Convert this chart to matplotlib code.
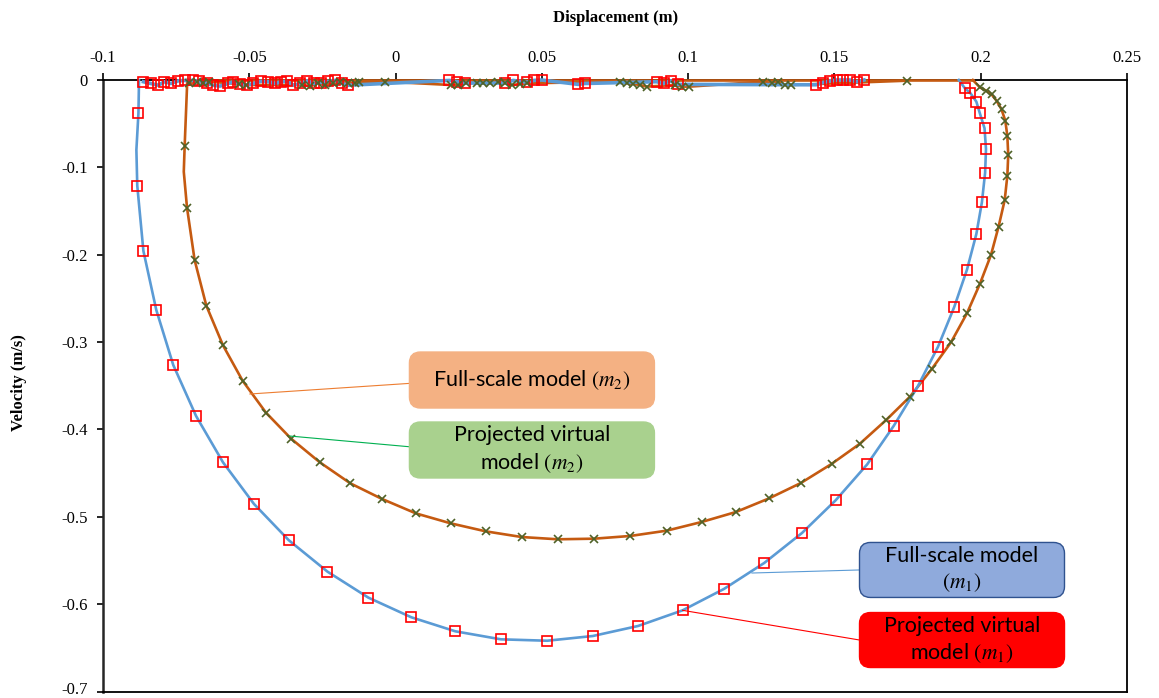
import matplotlib
matplotlib.use("Agg")
import matplotlib.pyplot as plt
from matplotlib.patches import FancyBboxPatch
from matplotlib.transforms import ScaledTranslation

plt.rcParams["font.family"] = ["Liberation Serif", "DejaVu Serif"]
plt.rcParams["mathtext.fontset"] = "stix"

# ---------------- data ----------------
x_ticks = [-0.1, -0.05, 0.0, 0.05, 0.1, 0.15, 0.2, 0.25]
x_tick_labels = ["-0.1", "-0.05", "0", "0.05", "0.1", "0.15", "0.2", "0.25"]
y_ticks = [0.0, -0.1, -0.2, -0.3, -0.4, -0.5, -0.6, -0.7]
y_tick_labels = ["0", "-0.1", "-0.2", "-0.3", "-0.4", "-0.5", "-0.6", "-0.7"]

# Full-scale model (m1): main swing, right -> left
m1_full_x = [0.1925, 0.1946, 0.1965, 0.1985, 0.1997, 0.2013, 0.2018, 0.2015, 0.2004,
             0.1985, 0.1953, 0.1909, 0.1854, 0.1785, 0.1703, 0.1612, 0.1504, 0.1389,
             0.1260, 0.1122, 0.0981, 0.0829, 0.0674, 0.0518, 0.0360, 0.0204, 0.0054,
             -0.0093, -0.0233, -0.0365, -0.0484, -0.0590, -0.0682, -0.0760, -0.0818,
             -0.0862, -0.0883, -0.0886, -0.0879, -0.0877]
m1_full_v = [0.0, -0.0095, -0.0152, -0.0248, -0.0381, -0.0553, -0.0790, -0.1061, -0.1400,
             -0.1763, -0.2171, -0.2602, -0.3053, -0.3506, -0.3957, -0.4399, -0.4811, -0.5185,
             -0.5528, -0.5826, -0.6070, -0.6249, -0.6364, -0.6418, -0.6402, -0.6310, -0.6150,
             -0.5925, -0.5627, -0.5268, -0.4853, -0.4376, -0.3846, -0.3262, -0.2632,
             -0.1957, -0.1210, -0.0800, -0.0381, 0.0]

# Projected virtual model (m1): samples on the swing
m1_virt_x = [0.1946, 0.1965, 0.1985, 0.1997, 0.2013, 0.2018, 0.2015, 0.2004, 0.1985,
             0.1953, 0.1909, 0.1854, 0.1785, 0.1703, 0.1612, 0.1504, 0.1389, 0.1260,
             0.1122, 0.0981, 0.0829, 0.0674, 0.0518, 0.0360, 0.0204, 0.0054, -0.0093,
             -0.0233, -0.0365, -0.0484, -0.0590, -0.0682, -0.0760, -0.0818, -0.0862,
             -0.0883, -0.0879]
m1_virt_v = [-0.0095, -0.0152, -0.0248, -0.0381, -0.0553, -0.0790, -0.1061, -0.1400, -0.1763,
             -0.2171, -0.2602, -0.3053, -0.3506, -0.3957, -0.4399, -0.4811, -0.5185, -0.5528,
             -0.5826, -0.6070, -0.6249, -0.6364, -0.6418, -0.6402, -0.6310, -0.6150, -0.5925,
             -0.5627, -0.5268, -0.4853, -0.4376, -0.3846, -0.3262, -0.2632, -0.1957,
             -0.1210, -0.0381]

# m1 samples near rest (small oscillations after the swing)
m1_rest_x = [-0.0862, -0.0837, -0.0811, -0.0790, -0.0768, -0.0743, -0.0720, -0.0693,
             -0.0671, -0.0646, -0.0623, -0.0600, -0.0572, -0.0555, -0.0532, -0.0509,
             -0.0486, -0.0461, -0.0435, -0.0412, -0.0392, -0.0370, -0.0350, -0.0327,
             -0.0302, -0.0279, -0.0256, -0.0230, -0.0207, -0.0184, -0.0162,
             0.0184, 0.0211, 0.0237, 0.0374, 0.0402, 0.0448, 0.0473, 0.0499, 0.0624,
             0.0647, 0.0892, 0.0917, 0.0940, 0.0964,
             0.1437, 0.1460, 0.1485, 0.1508, 0.1530, 0.1553, 0.1576, 0.1601]
m1_rest_v = [-0.0020, -0.0040, -0.0060, -0.0020, -0.0040, -0.0010, -0.0005, -0.0005,
             -0.0015, -0.0040, -0.0060, -0.0070, -0.0040, -0.0020, -0.0045, -0.0060,
             -0.0040, -0.0015, -0.0020, -0.0040, -0.0020, -0.0015, -0.0060, -0.0040,
             -0.0010, -0.0040, -0.0030, -0.0015, -0.0005, -0.0040, -0.0060,
             -0.0005, -0.0020, -0.0035, -0.0035, -0.0005, -0.0025, -0.0005, 0.0000, -0.0050,
             -0.0040, -0.0020, -0.0040, -0.0010, -0.0050,
             -0.0055, -0.0030, -0.0010, 0.0000, 0.0000, 0.0000, -0.0020, 0.0000]

# Full-scale model (m2): main swing, right -> left
m2_full_x = [0.1973, 0.1997, 0.2018, 0.2037, 0.2054, 0.2071, 0.2084, 0.2091, 0.2094,
             0.2091, 0.2082, 0.2061, 0.2035, 0.1997, 0.1953, 0.1899, 0.1832, 0.1758,
             0.1677, 0.1587, 0.1490, 0.1385, 0.1277, 0.1163, 0.1046, 0.0927, 0.0802,
             0.0679, 0.0554, 0.0431, 0.0308, 0.0188, 0.0069, -0.0046, -0.0155, -0.0259,
             -0.0357, -0.0443, -0.0523, -0.0590, -0.0647, -0.0687, -0.0713, -0.0724,
             -0.0721, -0.0712]
m2_full_v = [0.0, -0.0084, -0.0122, -0.0164, -0.0237, -0.0336, -0.0466, -0.0641, -0.0858,
             -0.1095, -0.1373, -0.1679, -0.2003, -0.2335, -0.2670, -0.2999, -0.3311, -0.3625,
             -0.3891, -0.4163, -0.4395, -0.4613, -0.4788, -0.4945, -0.5059, -0.5158, -0.5219,
             -0.5250, -0.5257, -0.5231, -0.5166, -0.5074, -0.4960, -0.4796, -0.4616, -0.4376,
             -0.4106, -0.3808, -0.3442, -0.3037, -0.2583, -0.2060, -0.1461, -0.1050,
             -0.0755, 0.0]

# Projected virtual model (m2): samples on the swing
m2_virt_x = [0.1997, 0.2018, 0.2037, 0.2054, 0.2071, 0.2084, 0.2091, 0.2094, 0.2091,
             0.2082, 0.2061, 0.2035, 0.1997, 0.1953, 0.1899, 0.1832, 0.1758, 0.1677,
             0.1587, 0.1490, 0.1385, 0.1277, 0.1163, 0.1046, 0.0927, 0.0802, 0.0679,
             0.0554, 0.0431, 0.0308, 0.0188, 0.0069, -0.0046, -0.0155, -0.0259, -0.0357,
             -0.0443, -0.0523, -0.0590, -0.0647, -0.0687, -0.0713, -0.0721]
m2_virt_v = [-0.0084, -0.0122, -0.0164, -0.0237, -0.0336, -0.0466, -0.0641, -0.0858, -0.1095,
             -0.1373, -0.1679, -0.2003, -0.2335, -0.2670, -0.2999, -0.3311, -0.3625, -0.3891,
             -0.4163, -0.4395, -0.4613, -0.4788, -0.4945, -0.5059, -0.5158, -0.5219, -0.5250,
             -0.5257, -0.5231, -0.5166, -0.5074, -0.4960, -0.4796, -0.4616, -0.4376, -0.4106,
             -0.3808, -0.3442, -0.3037, -0.2583, -0.2060, -0.1461, -0.0755]

# m2 samples near rest
m2_rest_x = [-0.0705, -0.0678, -0.0657, -0.0637, -0.0534, -0.0511, -0.0321, -0.0293,
             -0.0264, -0.0241, -0.0213, -0.0190, -0.0162, -0.0139, -0.0124, -0.0036,
             0.0188, 0.0214, 0.0241, 0.0277, 0.0300, 0.0323, 0.0351, 0.0374, 0.0397,
             0.0425, 0.0448, 0.0767, 0.0790, 0.0812, 0.0835, 0.0858, 0.0955, 0.0978,
             0.1004, 0.1257, 0.1285, 0.1308, 0.1331, 0.1353, 0.1747]
m2_rest_v = [-0.0038, -0.0019, -0.0031, -0.0019, -0.0046, -0.0057, -0.0057, -0.0069,
             -0.0038, -0.0057, -0.0038, -0.0019, -0.0038, -0.0038, -0.0019, -0.0019,
             -0.0057, -0.0057, -0.0038, -0.0031, -0.0038, -0.0031, -0.0019, -0.0038, -0.0057,
             -0.0046, -0.0038, -0.0019, -0.0038, -0.0046, -0.0057, -0.0076, -0.0057, -0.0076,
             -0.0076, -0.0019, -0.0038, -0.0019, -0.0057, -0.0057, -0.0008]

# ---------------- styles ----------------
BLUE = "#5B9BD5"
ORANGE = "#C55A11"
RED = "#FF0000"
OLIVE = "#4F6228"

fig = plt.figure(figsize=(11.59, 6.98), dpi=100)
ax = fig.add_axes([0.0889, 0.0092, 0.8835, 0.8762])
ax.set_xlim(-0.1, 0.25)
ax.set_ylim(-0.7, 0.0)

# full-scale trajectories
ax.plot(m2_full_x, m2_full_v, color=ORANGE, lw=1.9, zorder=3, clip_on=False)
ax.plot(m2_rest_x, m2_rest_v, color=ORANGE, lw=1.9, zorder=3, clip_on=False)
ax.plot([m2_full_x[-1], m2_full_x[0]], [0.0, 0.0], color=ORANGE, lw=1.9, zorder=3, clip_on=False)
ax.plot(m1_full_x, m1_full_v, color=BLUE, lw=1.9, zorder=3, clip_on=False)
ax.plot(m1_rest_x, m1_rest_v, color=BLUE, lw=2.6, zorder=3, clip_on=False)

# projected virtual samples
ax.plot(m1_virt_x, m1_virt_v, ls="none", marker="s", ms=7, mfc="none", mec=RED,
        mew=1.2, zorder=4, clip_on=False)
ax.plot(m1_rest_x, m1_rest_v, ls="none", marker="s", ms=7, mfc="none", mec=RED,
        mew=1.2, zorder=4, clip_on=False)
ax.plot(m2_virt_x, m2_virt_v, ls="none", marker="x", ms=6, mec=OLIVE,
        mew=1.2, zorder=5, clip_on=False)
ax.plot(m2_rest_x, m2_rest_v, ls="none", marker="x", ms=6, mec=OLIVE,
        mew=1.2, zorder=5, clip_on=False)

# axes appearance
ax.xaxis.tick_top()
ax.set_xticks(x_ticks)
ax.set_xticklabels(x_tick_labels, fontsize=12)
ax.set_yticks(y_ticks)
ax.set_yticklabels(y_tick_labels, fontsize=12)
ax.tick_params(axis="x", direction="out", length=5, width=1.2, pad=5, colors="black")
ax.tick_params(axis="y", direction="out", length=4, width=1.2, pad=7, colors="black")
for side in ["top", "bottom", "right"]:
    ax.spines[side].set_linewidth(1.3)
    ax.spines[side].set_color("black")
ax.spines["left"].set_linewidth(1.8)
ax.spines["left"].set_color("#262626")

# keep the lowest velocity label inside the canvas
lowest = ax.get_yticklabels()[-1]
lowest.set_transform(lowest.get_transform() + ScaledTranslation(0, 4 / 100, fig.dpi_scale_trans))

fig.text(0.531, 0.974, "Displacement (m)", ha="center", va="center",
         fontsize=12, fontweight="bold")
fig.text(0.016, 0.452, "Velocity (m/s)", ha="center", va="center",
         rotation=90, fontsize=12, fontweight="bold")

# ---------------- callout boxes ----------------
PX_X = 0.35 / 1024.0   # data units per pixel (x)
PX_Y = 0.70 / 611.6    # data units per pixel (y)
ASPECT = PX_Y / PX_X


def callout(cx, cy, w_px, h_px, text, face, edge, line_from, line_to, line_color):
    w = w_px * PX_X
    h = h_px * PX_Y
    box = FancyBboxPatch((cx - w / 2, cy - h / 2), w, h,
                         boxstyle="round,pad=0,rounding_size=%f" % (11 * PX_X),
                         mutation_aspect=ASPECT, facecolor=face, edgecolor=edge,
                         lw=1.0, zorder=6)
    ax.add_patch(box)
    ax.text(cx, cy, text, ha="center", va="center", fontsize=15.5,
            family=["Lato", "DejaVu Sans"], color="black", zorder=7,
            linespacing=1.3)
    ax.plot([line_from[0], line_to[0]], [line_from[1], line_to[1]],
            color=line_color, lw=0.8, zorder=5)


callout(0.0466, -0.3434, 245, 56, "Full-scale model $(m_2)$", "#F4B183", "#F4B183",
        (-0.0498, -0.3594), (0.0171, -0.3445), "#ED7D31")
callout(0.0466, -0.4235, 245, 56, "Projected virtual\nmodel $(m_2)$", "#A9D18E", "#A9D18E",
        (-0.0362, -0.4075), (0.0171, -0.4235), "#00B050")
callout(0.1936, -0.5608, 205, 55, "Full-scale model\n$(m_1)$", "#8FAADC", "#2F528F",
        (0.1218, -0.5643), (0.1586, -0.5608), "#5B9BD5")
callout(0.1936, -0.6410, 205, 55, "Projected virtual\nmodel $(m_1)$", "#FF0000", "#FF0000",
        (0.0981, -0.6070), (0.1586, -0.6410), "#FF0000")

fig.savefig("out.png", dpi=100)
